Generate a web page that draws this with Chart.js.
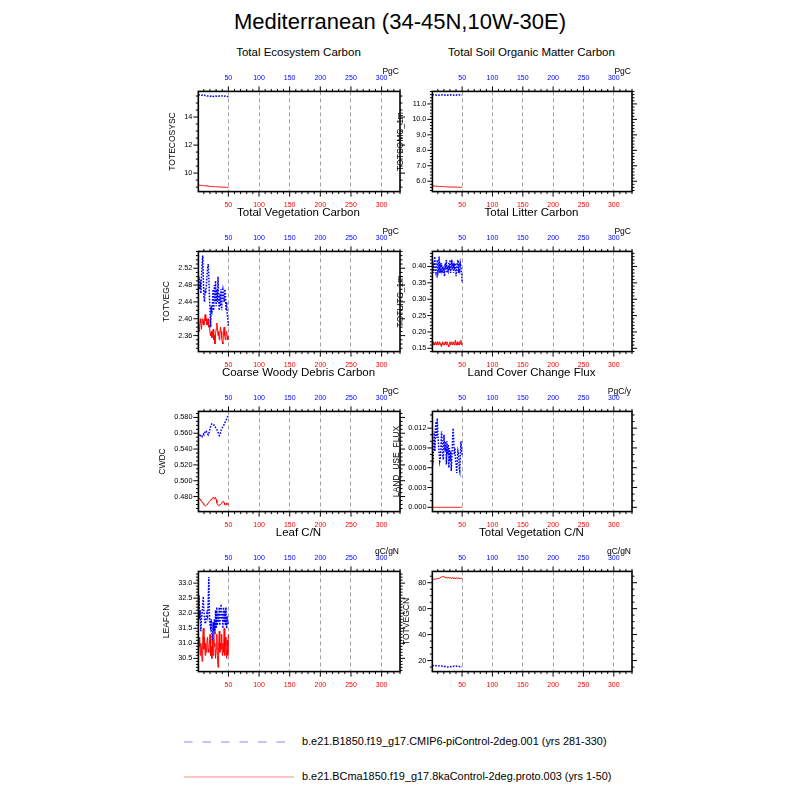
<!DOCTYPE html>
<html><head><meta charset="utf-8">
<script src="https://cdn.jsdelivr.net/npm/chart.js@4.4.0/dist/chart.umd.min.js"></script>
<style>
body{margin:0;background:#fff;}
#root{position:relative;width:800px;height:800px;overflow:hidden;background:#fff;font-family:"Liberation Sans",Arial,Helvetica,sans-serif;}
.t{position:absolute;white-space:nowrap;color:#000;}
canvas{position:absolute;}
</style></head><body><div id="root"></div>
<script>
// ---------------- DATA ----------------
const mainTitle = "Mediterranean (34-45N,10W-30E)";
const years = [1,2,3,4,5,6,7,8,9,10,11,12,13,14,15,16,17,18,19,20,21,22,23,24,25,26,27,28,29,30,31,32,33,34,35,36,37,38,39,40,41,42,43,44,45,46,47,48,49,50];
const xTicks = [50,100,150,200,250,300];
const legendLabels = ["b.e21.B1850.f19_g17.CMIP6-piControl-2deg.001 (yrs 281-330)","b.e21.BCma1850.f19_g17.8kaControl-2deg.proto.003 (yrs 1-50)"];
const panelTitles = ["Total Ecosystem Carbon","Total Soil Organic Matter Carbon","Total Vegetation Carbon","Total Litter Carbon","Coarse Woody Debris Carbon","Land Cover Change Flux","Leaf C/N","Total Vegetation C/N"];
const yTitles = ["TOTECOSYSC","TOTSOMC_1m","TOTVEGC","TOTLITC_1m","CWDC","LAND_USE_FLUX","LEAFCN","TOTVEGCN"];
const unitLabels = ["PgC","PgC","PgC","PgC","PgC","PgC/y","gC/gN","gC/gN"];

const tecTicks = [10,12,14];
const somTicks = [6.0,7.0,8.0,9.0,10.0,11.0];
const vegTicks = [2.36,2.40,2.44,2.48,2.52];
const litTicks = [0.15,0.20,0.25,0.30,0.35,0.40];
const cwdTicks = [0.480,0.500,0.520,0.540,0.560,0.580];
const lufTicks = [0.000,0.003,0.006,0.009,0.012];
const leafTicks = [30.5,31.0,31.5,32.0,32.5,33.0];
const vcnTicks = [20,40,60,80];

const tecBlue = [15.58,15.57,15.58,15.56,15.57,15.55,15.56,15.57,15.55,15.54,15.55,15.53,15.52,15.53,15.51,15.50,15.51,15.52,15.50,15.49,15.50,15.48,15.49,15.50,15.48,15.47,15.49,15.50,15.51,15.49,15.50,15.52,15.51,15.50,15.49,15.51,15.50,15.52,15.51,15.50,15.49,15.51,15.50,15.49,15.50,15.48,15.49,15.47,15.46,15.44];
const tecRed = [9.15,9.15,9.14,9.14,9.13,9.13,9.12,9.12,9.11,9.11,9.10,9.10,9.09,9.09,9.08,9.08,9.07,9.07,9.06,9.06,9.05,9.05,9.05,9.04,9.04,9.04,9.03,9.03,9.03,9.02,9.02,9.02,9.02,9.01,9.01,9.01,9.01,9.00,9.00,9.00,9.00,8.99,8.99,8.99,8.99,8.99,8.98,8.98,8.98,8.98];
const somBlue = [11.59,11.58,11.59,11.58,11.58,11.59,11.58,11.57,11.58,11.59,11.58,11.57,11.58,11.58,11.57,11.58,11.59,11.58,11.57,11.58,11.58,11.57,11.58,11.59,11.58,11.57,11.58,11.58,11.57,11.58,11.59,11.58,11.57,11.58,11.58,11.57,11.58,11.59,11.58,11.57,11.58,11.58,11.57,11.58,11.59,11.58,11.58,11.57,11.58,11.58];
const somRed = [5.70,5.70,5.69,5.69,5.69,5.68,5.68,5.68,5.67,5.67,5.67,5.67,5.66,5.66,5.66,5.66,5.65,5.65,5.65,5.65,5.65,5.64,5.64,5.64,5.64,5.64,5.63,5.63,5.63,5.63,5.63,5.63,5.63,5.62,5.62,5.62,5.62,5.62,5.62,5.62,5.62,5.62,5.62,5.61,5.61,5.61,5.61,5.61,5.61,5.61];
const vegBlue = [2.49,2.50,2.47,2.48,2.46,2.50,2.53,2.55,2.50,2.45,2.44,2.47,2.46,2.48,2.50,2.52,2.53,2.50,2.45,2.42,2.38,2.43,2.41,2.44,2.47,2.42,2.48,2.44,2.49,2.43,2.47,2.44,2.50,2.45,2.42,2.46,2.43,2.47,2.42,2.46,2.47,2.46,2.44,2.47,2.46,2.42,2.44,2.41,2.40,2.38];
const vegRed = [2.40,2.37,2.38,2.40,2.39,2.375,2.39,2.40,2.395,2.385,2.40,2.41,2.395,2.40,2.385,2.39,2.40,2.38,2.385,2.365,2.36,2.37,2.355,2.36,2.375,2.35,2.36,2.34,2.365,2.375,2.39,2.38,2.36,2.37,2.35,2.365,2.38,2.37,2.355,2.345,2.34,2.37,2.38,2.36,2.35,2.365,2.37,2.36,2.35,2.355];
const litBlue = [0.39,0.40,0.38,0.41,0.43,0.39,0.38,0.40,0.42,0.38,0.39,0.43,0.38,0.40,0.39,0.41,0.38,0.40,0.38,0.40,0.37,0.41,0.39,0.42,0.38,0.40,0.39,0.41,0.39,0.42,0.38,0.40,0.42,0.39,0.41,0.38,0.40,0.39,0.41,0.37,0.39,0.41,0.42,0.38,0.40,0.39,0.41,0.40,0.38,0.35];
const litRed = [0.165,0.17,0.16,0.165,0.16,0.17,0.165,0.16,0.17,0.165,0.16,0.165,0.17,0.16,0.165,0.155,0.165,0.17,0.16,0.165,0.16,0.17,0.165,0.16,0.17,0.165,0.16,0.155,0.165,0.17,0.16,0.165,0.17,0.16,0.165,0.17,0.16,0.165,0.175,0.16,0.165,0.17,0.16,0.165,0.16,0.17,0.165,0.175,0.16,0.165];
const cwdBlue = [0.559,0.557,0.556,0.557,0.558,0.557,0.556,0.558,0.559,0.558,0.560,0.562,0.561,0.562,0.560,0.559,0.558,0.560,0.563,0.566,0.569,0.571,0.572,0.572,0.571,0.570,0.570,0.569,0.567,0.566,0.565,0.563,0.561,0.559,0.557,0.558,0.561,0.564,0.566,0.567,0.569,0.570,0.571,0.573,0.575,0.576,0.578,0.580,0.581,0.582];
const cwdRed = [0.479,0.478,0.477,0.476,0.475,0.474,0.473,0.472,0.471,0.470,0.469,0.468,0.468,0.469,0.470,0.471,0.472,0.473,0.474,0.475,0.476,0.476,0.477,0.478,0.479,0.478,0.477,0.478,0.479,0.476,0.472,0.470,0.469,0.469,0.469,0.470,0.470,0.471,0.472,0.473,0.474,0.474,0.472,0.470,0.469,0.470,0.472,0.471,0.470,0.469];
const lufBlue = [0.0080,0.0065,0.0100,0.0115,0.0085,0.0120,0.0130,0.0105,0.0135,0.0110,0.0095,0.0085,0.0070,0.0075,0.0090,0.0115,0.0100,0.0080,0.0072,0.0110,0.0095,0.0085,0.0100,0.0065,0.0100,0.0080,0.0095,0.0060,0.0090,0.0070,0.0085,0.0055,0.0075,0.0100,0.0120,0.0105,0.0080,0.0090,0.0070,0.0065,0.0052,0.0075,0.0085,0.0080,0.0060,0.0055,0.0080,0.0100,0.0085,0.0080];
const lufRed = [0,0,0,0,0,0,0,0,0,0,0,0,0,0,0,0,0,0,0,0,0,0,0,0,0,0,0,0,0,0,0,0,0,0,0,0,0,0,0,0,0,0,0,0,0,0,0,0,0,0];
const leafBlue = [31.9,32.6,31.8,32.1,31.4,31.8,32.0,32.3,32.55,32.1,31.8,31.65,31.7,31.9,32.0,31.9,32.4,33.2,32.0,31.6,31.5,31.8,31.3,31.0,31.7,31.4,31.8,31.3,32.1,31.5,32.2,31.6,32.0,31.7,32.2,31.6,32.0,32.3,31.8,32.0,31.5,32.2,31.7,32.1,31.6,32.2,31.5,31.9,31.7,31.6];
const leafRed = [31.3,30.9,31.2,30.6,31.0,30.8,30.4,31.1,31.5,30.8,31.2,30.6,31.0,30.7,31.1,31.2,30.8,30.7,31.0,31.3,30.6,30.9,30.5,31.1,30.6,31.4,30.9,31.0,30.5,30.8,31.3,30.6,30.2,30.9,31.4,30.7,31.0,30.8,31.3,30.6,31.0,30.7,31.5,30.6,31.2,30.9,30.5,31.1,30.6,31.3];
const vcnBlue = [16.1,16.0,16.1,16.0,15.9,16.0,16.1,16.0,15.9,16.0,15.9,15.8,15.9,15.8,15.7,15.8,15.7,15.6,15.7,15.6,15.5,15.4,15.3,15.2,15.1,15.0,15.1,15.0,15.1,15.2,15.3,15.4,15.5,15.6,15.5,15.6,15.7,15.6,15.7,15.8,15.7,15.6,15.5,15.4,15.5,15.4,15.3,15.4,15.3,15.3];
const vcnRed = [83.5,83.2,82.9,82.7,82.6,82.8,83.0,82.9,83.2,83.4,83.3,83.6,83.5,83.8,84.0,84.3,84.5,84.7,84.9,84.6,84.2,84.0,83.8,84.1,83.9,83.6,83.8,84.0,83.7,83.5,83.7,83.4,83.6,83.9,83.5,83.3,83.6,83.4,83.2,83.5,83.7,83.4,83.2,83.5,83.6,83.3,83.1,83.4,83.5,83.3];

// y ranges [min,max], minor step, decimals
const yRanges = [[8.68,15.83],[5.33,11.81],[2.322,2.560],[0.140,0.446],[0.461,0.5876],[-0.00065,0.01454],[30.06,33.39],[11.5,88.7]];
const yMinor = [0.5,0.2,0.01,0.01,0.005,0.001,0.1,5];
const yDec = [0,1,2,2,3,3,1,0];

// ---------------- LAYOUT ----------------
const panels = [
  {blue:tecBlue, red:tecRed, ticks:tecTicks},
  {blue:somBlue, red:somRed, ticks:somTicks},
  {blue:vegBlue, red:vegRed, ticks:vegTicks},
  {blue:litBlue, red:litRed, ticks:litTicks},
  {blue:cwdBlue, red:cwdRed, ticks:cwdTicks},
  {blue:lufBlue, red:lufRed, ticks:lufTicks},
  {blue:leafBlue, red:leafRed, ticks:leafTicks},
  {blue:vcnBlue, red:vcnRed, ticks:vcnTicks}
];
const cols = [{l:198,w:201},{l:432,w:199}];
const rowTops = [91,251,411,571];
const boxH = 100;
const FONT = '"Liberation Sans", Arial, Helvetica, sans-serif';
const root = document.getElementById('root');

function addText(txt, x, cy, size, align, color){
  const d = document.createElement('div');
  d.className = 't';
  d.textContent = txt;
  d.style.fontSize = size + 'px';
  d.style.lineHeight = (size*1.2) + 'px';
  d.style.top = (cy - size*0.6) + 'px';
  if (color) d.style.color = color;
  if (align === 'center'){ d.style.left = (x-300)+'px'; d.style.width='600px'; d.style.textAlign='center'; }
  else if (align === 'right'){ d.style.right = (800-x)+'px'; d.style.textAlign='right'; }
  else { d.style.left = x+'px'; }
  root.appendChild(d);
}

addText(mainTitle, 400, 22, 22, 'center');

const framePlugin = {
  id:'nclframe',
  afterDraw(chart){
    const p = chart.$p; if(!p) return;
    const {ctx, chartArea:a} = chart;
    const xs = chart.scales.x, ys = chart.scales.y;
    ctx.save();
    ctx.strokeStyle = '#000';
    ctx.lineWidth = 1;
    const ln = (x1,y1,x2,y2)=>{ctx.beginPath();ctx.moveTo(x1,y1);ctx.lineTo(x2,y2);ctx.stroke();};
    for (let k=1;k<=33;k++){
      const v = k*10;
      const px = xs.getPixelForValue(v);
      const L = (v%50===0)?5:2.5;
      ln(px,a.bottom,px,a.bottom+L);
      ln(px,a.top,px,a.top-L);
    }
    const [mn,mx] = p.range, st = p.minor;
    for (let k=Math.ceil(mn/st-1e-9); k*st<=mx+1e-12; k++){
      const v = k*st;
      const major = p.ticks.some(t=>Math.abs(t-v)<st*0.01);
      const py = ys.getPixelForValue(v);
      const L = major?5:2.5;
      ln(a.left,py,a.left-L,py);
      ln(a.right,py,a.right+L,py);
    }
    ctx.lineWidth = 1.6;
    ctx.strokeRect(a.left,a.top,a.right-a.left,a.bottom-a.top);
    ctx.restore();
  }
};

function config(p){
  const xBase = {type:'linear', min:1, max:330,
    afterBuildTicks: s => { s.ticks = xTicks.map(v=>({value:v})); }};
  return {
    type:'line',
    data:{datasets:[
      {data: years.map((x,i)=>({x:x,y:p.red[i]})), borderColor:'#ff0000', borderWidth:1, pointRadius:0, fill:false, tension:0},
      {data: years.map((x,i)=>({x:x,y:p.blue[i]})), borderColor:'#0000ff', borderWidth:1.5, borderDash:[1.6,1.4], pointRadius:0, fill:false, tension:0}
    ]},
    options:{
      responsive:false, animation:false, events:[],
      layout:{padding:{left:0,right:8,top:0,bottom:0}},
      plugins:{legend:{display:false}, tooltip:{enabled:false}, title:{display:false}},
      scales:{
        x: Object.assign({}, xBase, {position:'bottom',
          ticks:{color:'#ff0000', font:{size:7, family:FONT}, padding:9.5, autoSkip:false, maxRotation:0, minRotation:0},
          grid:{display:true, drawOnChartArea:true, drawTicks:false, color:'#a0a0a0', lineWidth:1},
          border:{display:false, dash:[4,3]}}),
        x2: Object.assign({}, xBase, {position:'top',
          ticks:{color:'#0000ff', font:{size:7, family:FONT}, padding:9, autoSkip:false, maxRotation:0, minRotation:0},
          grid:{display:false, drawTicks:false},
          border:{display:false}}),
        y: {type:'linear', position:'left', min:p.range[0], max:p.range[1],
          afterBuildTicks: s => { s.ticks = p.ticks.map(v=>({value:v})); },
          ticks:{color:'#000', font:{size:7.3, family:FONT}, padding:6, autoSkip:false,
            callback: v => Number(v).toFixed(p.dec)},
          grid:{display:false, drawTicks:false},
          border:{display:false},
          title:{display:true, text:p.ytitle, color:'#000', font:{size:8.5, family:FONT}, padding:{top:2,bottom:0}}}
      }
    },
    plugins:[framePlugin]
  };
}

panels.forEach((p,i)=>{
  const col = cols[i%2], bt = rowTops[Math.floor(i/2)];
  p.range = yRanges[i]; p.minor = yMinor[i]; p.dec = yDec[i]; p.ytitle = yTitles[i];
  // pass 1: measure axis sizes
  const c0 = document.createElement('canvas');
  c0.width = 400; c0.height = 200;
  c0.style.width='400px'; c0.style.height='200px';
  c0.style.visibility='hidden';
  root.appendChild(c0);
  const ch0 = new Chart(c0, config(p));
  const aL = ch0.chartArea.left, aT = ch0.chartArea.top;
  const bB = 200 - ch0.chartArea.bottom;
  ch0.destroy(); root.removeChild(c0);
  // pass 2
  const W = Math.ceil(aL + col.w + 8), H = Math.ceil(aT + boxH + bB);
  const cv = document.createElement('canvas');
  cv.width = W; cv.height = H;
  cv.style.width = W+'px'; cv.style.height = H+'px';
  root.appendChild(cv);
  const ch = new Chart(cv, config(p));
  ch.$p = p;
  const a = ch.chartArea;
  cv.style.left = (col.l - a.left) + 'px';
  cv.style.top = (bt - a.top) + 'px';
  ch.draw();
  addText(panelTitles[i], col.l + col.w/2, bt - 38, 11.5, 'center');
  addText(unitLabels[i], col.l + col.w, bt - 20, 8.5, 'right');
});

// legend
const svgNS = 'http://www.w3.org/2000/svg';
const svg = document.createElementNS(svgNS,'svg');
svg.setAttribute('width','800'); svg.setAttribute('height','800');
svg.style.position='absolute'; svg.style.left='0'; svg.style.top='0';
const legendStyles = [{c:'#b0b0ff', dash:'8.5 10', x2:290, y:742},{c:'#ffb0b0', dash:'', x2:294, y:777}];
legendStyles.forEach((s,i)=>{
  const l = document.createElementNS(svgNS,'line');
  l.setAttribute('x1','184'); l.setAttribute('x2',String(s.x2));
  l.setAttribute('y1',String(s.y)); l.setAttribute('y2',String(s.y));
  l.setAttribute('stroke',s.c); l.setAttribute('stroke-width','1.5');
  if (s.dash) l.setAttribute('stroke-dasharray',s.dash);
  svg.appendChild(l);
  addText(legendLabels[i], 302, s.y, 10.9, 'left');
});
root.appendChild(svg);
</script>
</body></html>
